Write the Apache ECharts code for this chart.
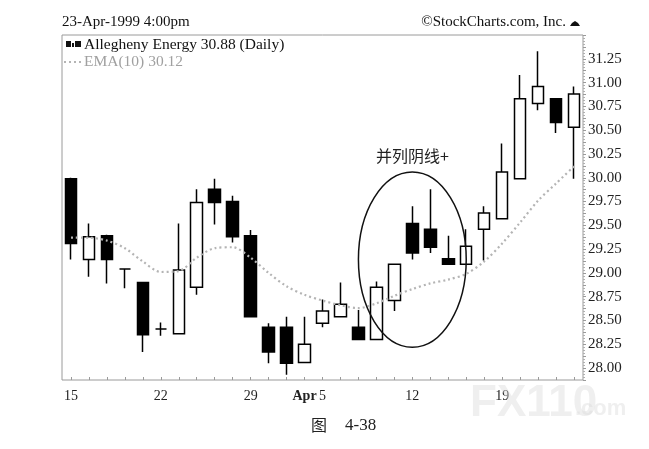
<!DOCTYPE html>
<html>
<head>
<meta charset="utf-8">
<script src="https://cdn.jsdelivr.net/npm/echarts@6/dist/echarts.min.js"></script>
<style>
html,body{margin:0;padding:0;background:#fff;}
#main{width:649px;height:449px;}
</style>
</head>
<body>
<div id="main"></div>
<script>
// Trading days, 15-Mar-1999 .. 23-Apr-1999
var categories = ['Mar15','Mar16','Mar17','Mar18','Mar19','Mar22','Mar23','Mar24','Mar25','Mar26',
  'Mar29','Mar30','Mar31','Apr1','Apr5','Apr6','Apr7','Apr8','Apr9','Apr12','Apr13','Apr14','Apr15','Apr16',
  'Apr19','Apr20','Apr21','Apr22','Apr23'];
var tickLabels = {0:'15',5:'22',10:'29',13:'{b|Apr}',14:'5',19:'12',24:'19'};
var opens  = [29.99,29.14,29.39,29.04,28.90,28.41,28.36,28.85,29.88,29.75,29.39,28.43,28.43,28.06,28.47,28.54,28.43,28.30,28.71,29.52,29.46,29.15,29.09,29.46,29.57,29.99,30.78,30.83,30.53];
var closes = [29.31,29.38,29.14,29.04,28.35,28.41,29.03,29.74,29.74,29.38,28.54,28.17,28.05,28.25,28.60,28.67,28.30,28.85,29.09,29.21,29.27,29.09,29.28,29.63,30.06,30.83,30.96,30.58,30.88];
var lows   = [29.14,28.96,28.89,28.84,28.17,28.34,28.36,28.77,29.51,29.32,28.54,28.05,27.93,28.06,28.43,28.54,28.30,28.30,28.60,29.14,29.21,29.09,29.09,29.13,29.57,29.99,30.71,30.47,29.99];
var highs  = [30.00,29.52,29.40,29.04,28.90,28.48,29.52,29.88,29.99,29.81,29.45,28.47,28.54,28.54,28.72,28.90,28.61,28.91,29.09,29.70,29.88,29.39,29.46,29.70,30.36,31.08,31.33,30.83,30.96];
var ema10  = [29.37,29.37,29.34,29.26,29.12,29.01,29.02,29.16,29.26,29.27,29.16,29.00,28.86,28.77,28.71,28.66,28.63,28.68,28.76,28.83,28.89,28.93,28.99,29.12,29.31,29.53,29.76,29.94,30.12];

var candleData = categories.map(function(c,i){ return [opens[i], closes[i], lows[i], highs[i]]; });

var serif = '"Liberation Serif","DejaVu Serif",serif';
var chart = echarts.init(document.getElementById('main'), null, {renderer:'canvas'});

var option = {
  animation:false,
  backgroundColor:'#fff',
  grid:{left:62, right:66, top:35, bottom:69, show:true, borderColor:'#9a9a9a', borderWidth:1},
  xAxis:{
    type:'category', data:categories, boundaryGap:true,
    axisLine:{show:false},
    axisTick:{show:true, inside:true, length:3, alignWithLabel:true, interval:0, lineStyle:{color:'#9a9a9a'}},
    axisLabel:{
      interval:0, margin:9, color:'#222', fontFamily:serif, fontSize:14,
      formatter:function(v,i){ return tickLabels[i] !== undefined ? tickLabels[i] : ''; },
      rich:{b:{fontWeight:'bold', fontFamily:serif, fontSize:14, color:'#222'}}
    },
    splitLine:{show:false}
  },
  yAxis:{
    type:'value', position:'right', min:27.875, max:31.5, interval:0.125, scale:true,
    axisLine:{show:false},
    axisTick:{show:true, inside:false, length:3, lineStyle:{color:'#9a9a9a'}},
    minorTick:{show:true, splitNumber:4, length:2, lineStyle:{color:'#b0b0b0'}},
    axisLabel:{
      margin:5, color:'#222', fontFamily:serif, fontSize:15, showMaxLabel:false,
      formatter:function(v){ var q=Math.round(v*8); return (q%2===0 && v < 31.4) ? v.toFixed(2) : ''; }
    },
    splitLine:{show:false}
  },
  series:[
    {
      type:'candlestick', data:candleData, barWidth:12,
      itemStyle:{color:'#ffffff', color0:'#000000', borderColor:'#000000', borderColor0:'#000000', borderWidth:1.5}
    },
    {
      type:'line', data:ema10, symbol:'none', smooth:0.3,
      lineStyle:{color:'#b4b4b4', width:2.2, type:[2,3]}
    }
  ]
};
chart.setOption(option);

// annotation ellipse placed in data units
var c = chart.convertToPixel({gridIndex:0}, [19.1, 29.14]);
var e1 = chart.convertToPixel({gridIndex:0}, [19.1 + 2.8, 29.14 + 0.92]);
var rx = Math.abs(e1[0]-c[0]), ry = Math.abs(e1[1]-c[1]);
var tp = chart.convertToPixel({gridIndex:0}, [18.9, 30.23]);

chart.setOption({
  graphic:[
    {type:'ellipse', shape:{cx:c[0], cy:c[1], rx:rx, ry:ry}, style:{fill:'none', stroke:'#111', lineWidth:1.5}, z:10},
    {type:'text', x:tp[0], y:tp[1], style:{text:'并列阴线+', fill:'#222', font:'16px "Noto Sans CJK SC", sans-serif', textAlign:'center', textVerticalAlign:'middle'}, z:10},
    {type:'text', left:62, top:15, style:{text:'23-Apr-1999 4:00pm', fill:'#111', font:'15px '+serif}},
    {type:'text', right:83, top:15, style:{text:'©StockCharts.com, Inc.', fill:'#111', font:'15px '+serif}},
    {type:'polygon', shape:{points:[[570,26],[580,26],[578,23],[575,21],[572,23]]}, style:{fill:'#111'}},
    {type:'rect', shape:{x:66, y:41, width:5, height:6}, style:{fill:'#111'}},
    {type:'rect', shape:{x:72, y:43, width:2, height:4}, style:{fill:'#111'}},
    {type:'rect', shape:{x:75, y:41, width:6, height:6}, style:{fill:'#111'}},
    {type:'text', left:84, top:37, style:{text:'Allegheny Energy 30.88 (Daily)', fill:'#111', font:'15.5px '+serif}},
    {type:'line', shape:{x1:64, y1:62, x2:82, y2:62}, style:{stroke:'#b4b4b4', lineWidth:2, lineDash:[2,3]}},
    {type:'text', left:84, top:54, style:{text:'EMA(10) 30.12', fill:'#a0a0a0', font:'15.5px '+serif}},
    {type:'text', left:470, top:382, style:{text:'FX110', fill:'rgba(220,220,220,0.45)', font:'bold 44px "Liberation Sans", sans-serif'}, z:20},
    {type:'text', left:575, top:398, style:{text:'.com', fill:'rgba(220,220,220,0.45)', font:'bold 22px "Liberation Sans", sans-serif'}, z:20},
    {type:'text', left:311, top:417, style:{text:'图', fill:'#222', font:'16px "Noto Sans CJK SC", sans-serif'}},
    {type:'text', left:345, top:417, style:{text:'4-38', fill:'#222', font:'17px '+serif}}
  ]
});
</script>
</body>
</html>
